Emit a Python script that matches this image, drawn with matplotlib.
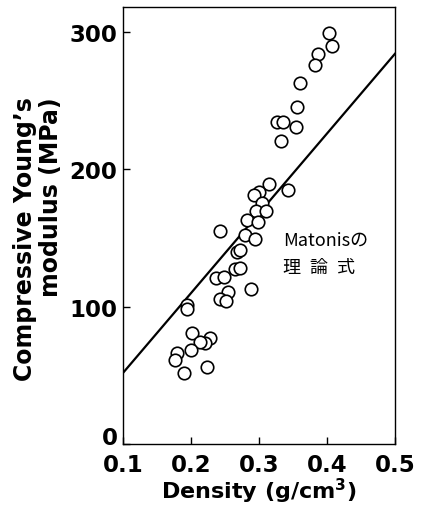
import matplotlib
matplotlib.use('Agg')
import matplotlib.pyplot as plt
import numpy as np

# measured points (density g/cm3, modulus MPa)
density = [0.403, 0.408, 0.387, 0.383, 0.361, 0.356, 0.327, 0.335, 0.354, 0.332,
           0.314, 0.342, 0.300, 0.292, 0.304, 0.296, 0.310, 0.283, 0.299, 0.243,
           0.280, 0.294, 0.267, 0.272, 0.265, 0.272, 0.236, 0.249, 0.255, 0.288,
           0.243, 0.251, 0.194, 0.194, 0.201, 0.228, 0.221, 0.213, 0.200, 0.179,
           0.176, 0.223, 0.190]
modulus = [299, 290, 284, 276, 263, 245, 234.5, 234.5, 231, 220.6,
           189, 185, 183.7, 181.5, 175.7, 169.6, 170, 163.5, 162, 155,
           152.5, 149.4, 140, 141.6, 127.5, 128, 121, 121.7, 110.7, 113,
           105.8, 103.9, 101.5, 98.3, 81, 77, 74, 74.7, 68.6, 66.7,
           61.3, 56.4, 52]

# Matonis theoretical line
theory_x = [0.1, 0.5]
theory_y = [52, 284]

xticks = [0.1, 0.2, 0.3, 0.4, 0.5]
yticks = [0, 100, 200, 300]

fig = plt.figure(figsize=(4.26, 5.06), dpi=100)
ax = fig.add_axes([0.289, 0.12, 0.638, 0.864])

ax.plot(theory_x, theory_y, color='black', lw=1.6, zorder=2)
ax.plot(density, modulus, 'o', ms=9, mfc='white', mec='black', mew=1.2, zorder=3)

ax.set_xlim(0.1, 0.5)
ax.set_ylim(0, 318)
ax.set_xticks(xticks)
ax.set_yticks(yticks)
ax.set_xticklabels([f"{v:.1f}" for v in xticks], fontsize=16.5, fontweight='bold')
ylabels = ax.set_yticklabels([str(v) for v in yticks], fontsize=16.5, fontweight='bold',
                             va='center_baseline')
ylabels[0].set_va('baseline')  # "0" sits just above the x tick labels
ax.tick_params(direction='in', length=5, width=1)
ax.tick_params(axis='x', pad=6)
ax.tick_params(axis='y', pad=4)

for s in ax.spines.values():
    s.set_linewidth(1.0)

ax.set_xlabel('Density (g/cm$^\\mathbf{3}$)', fontsize=16, fontweight='bold')
ax.xaxis.set_label_coords(0.5, -0.071)
ax.set_ylabel('Compressive Young\u2019s\nmodulus (MPa)', fontsize=17, fontweight='bold',
              linespacing=1.1, multialignment='right')
ax.yaxis.set_label_coords(-0.22, 0.471)

ax.text(0.335, 149, 'Matonisの', fontsize=13, va='center', ha='left',
        family=['Noto Sans CJK JP', 'DejaVu Sans'])
ax.text(0.335, 129, '理\u2002論\u2002式', fontsize=13, va='center', ha='left',
        family=['Noto Sans CJK JP', 'DejaVu Sans'])

fig.savefig('out.png', dpi=100)
